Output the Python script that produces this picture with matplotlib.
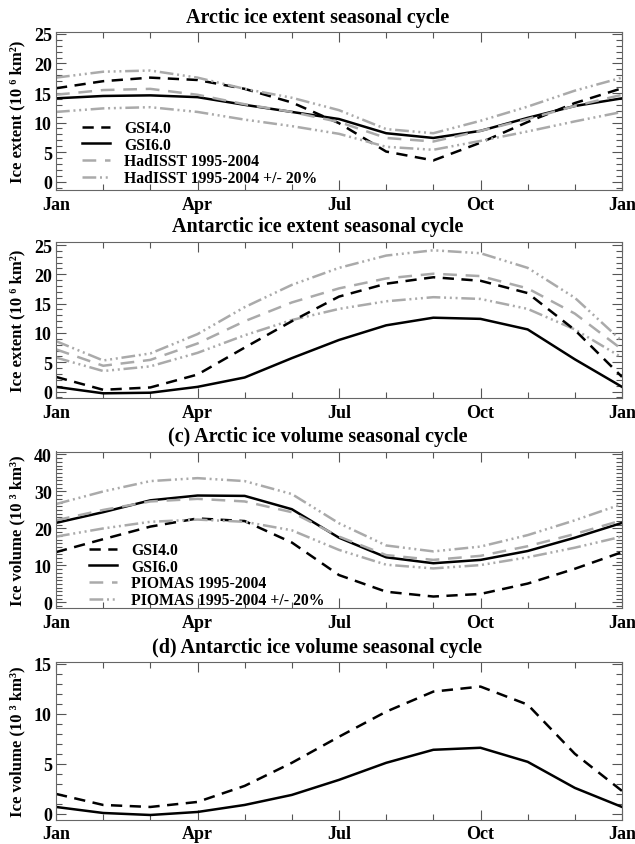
import matplotlib
matplotlib.use("Agg")
import matplotlib.pyplot as plt
from matplotlib.ticker import MultipleLocator, FixedLocator

# ---------------- data ----------------
months = list(range(13))  # Jan .. Jan (next year)
month_ticks = [0, 3, 6, 9, 12]
month_labels = ["Jan", "Apr", "Jul", "Oct", "Jan"]

# Arctic ice extent (10^6 km^2)
arc_ext_gsi4 = [15.8, 17.0, 17.6, 17.2, 15.7, 13.4, 9.9, 5.1, 3.6, 6.6, 10.1, 13.3, 15.8]
arc_ext_gsi6 = [14.1, 14.5, 14.6, 14.3, 13.0, 11.8, 10.6, 8.2, 7.4, 8.6, 10.8, 12.8, 14.1]
arc_ext_had = [14.7, 15.5, 15.7, 14.7, 13.1, 11.8, 10.1, 7.4, 6.8, 8.6, 10.6, 12.8, 14.7]
arc_ext_had_hi = [17.6, 18.6, 18.8, 17.6, 15.7, 14.2, 12.1, 8.9, 8.2, 10.3, 12.7, 15.4, 17.6]
arc_ext_had_lo = [11.8, 12.4, 12.6, 11.8, 10.5, 9.4, 8.1, 5.9, 5.4, 6.9, 8.5, 10.2, 11.8]

# Antarctic ice extent (10^6 km^2)
ant_ext_gsi4 = [2.5, 0.3, 0.7, 2.9, 7.5, 12.0, 16.2, 18.4, 19.5, 18.9, 16.8, 10.5, 2.5]
ant_ext_gsi6 = [0.8, -0.3, -0.2, 0.8, 2.4, 5.7, 8.8, 11.3, 12.6, 12.4, 10.6, 5.5, 0.8]
ant_ext_had = [7.2, 4.4, 5.4, 8.2, 12.0, 15.2, 17.6, 19.3, 20.1, 19.7, 17.6, 13.3, 7.2]
ant_ext_had_hi = [8.6, 5.3, 6.5, 9.8, 14.4, 18.2, 21.1, 23.2, 24.1, 23.6, 21.1, 16.0, 8.6]
ant_ext_had_lo = [5.8, 3.5, 4.3, 6.6, 9.6, 12.2, 14.1, 15.4, 16.1, 15.8, 14.1, 10.6, 5.8]

# Arctic ice volume (10^3 km^3)
arc_vol_gsi4 = [13.6, 17.1, 20.5, 22.7, 22.0, 16.2, 7.4, 2.9, 1.6, 2.3, 5.1, 9.1, 13.6]
arc_vol_gsi6 = [21.5, 24.4, 27.6, 28.9, 28.8, 25.2, 17.5, 12.2, 10.6, 11.5, 13.9, 17.5, 21.5]
arc_vol_pio = [22.2, 25.0, 27.3, 28.0, 27.3, 24.4, 17.8, 12.8, 11.5, 12.6, 15.2, 18.5, 22.2]
arc_vol_pio_hi = [26.6, 30.0, 32.8, 33.6, 32.8, 29.3, 21.4, 15.4, 13.8, 15.1, 18.2, 22.2, 26.6]
arc_vol_pio_lo = [17.8, 20.0, 21.8, 22.4, 21.8, 19.5, 14.2, 10.2, 9.2, 10.1, 12.2, 14.8, 17.8]

# Antarctic ice volume (10^3 km^3)
ant_vol_gsi4 = [2.0, 0.9, 0.7, 1.2, 2.8, 5.1, 7.7, 10.2, 12.2, 12.7, 10.9, 6.0, 2.3]
ant_vol_gsi6 = [0.7, 0.1, -0.1, 0.2, 0.9, 1.9, 3.4, 5.1, 6.4, 6.6, 5.2, 2.6, 0.7]

titles = ["Arctic ice extent seasonal cycle",
          "Antarctic ice extent seasonal cycle",
          "(c) Arctic ice volume seasonal cycle",
          "(d) Antarctic ice volume seasonal cycle"]
ylabels = ["Ice extent (10 \u2076 km\u00b2)", "Ice extent (10 \u2076 km\u00b2)",
           "Ice volume (10 \u00b3 km\u00b3)", "Ice volume (10 \u00b3 km\u00b3)"]

# ---------------- style ----------------
SERIF = ["Liberation Serif", "DejaVu Serif"]
plt.rcParams["font.family"] = SERIF
plt.rcParams["font.weight"] = "bold"
plt.rcParams["axes.labelweight"] = "bold"
GRAY = "#aaaaaa"
LW = 1.8

sty_gsi4 = dict(color="black", lw=LW, dashes=(4.5, 3))
sty_gsi6 = dict(color="black", lw=LW, linestyle="-")
sty_mean = dict(color=GRAY, lw=LW, dashes=(5.5, 3.5))
sty_pm = dict(color=GRAY, lw=LW, dashes=(5.5, 1.5, 0.8, 1.5, 0.8, 1.5, 0.8, 1.5))

fig = plt.figure(figsize=(6.35, 8.45), dpi=100)

W, H = 635.0, 845.0
boxes = [(32.5, 191), (242.5, 399), (452.5, 609), (662.5, 820.5)]
left, right = 56, 622
ylims = [(-1.4, 25.4), (-1.1, 25.6), (-1.5, 40.8), (-0.55, 15.2)]
ymaj = [5, 5, 10, 5]
ymin_ = [1, 1, 1, 1]

axes = []
for i, (top, bot) in enumerate(boxes):
    ax = fig.add_axes([left / W, 1 - bot / H, (right - left) / W, (bot - top) / H])
    ax.set_xlim(0, 12)
    ax.set_ylim(*ylims[i])
    ax.xaxis.set_major_locator(FixedLocator(month_ticks))
    ax.xaxis.set_minor_locator(MultipleLocator(1))
    ax.set_xticklabels(month_labels)
    ax.yaxis.set_major_locator(MultipleLocator(ymaj[i]))
    ax.yaxis.set_minor_locator(MultipleLocator(ymin_[i]))
    ax.tick_params(which="both", direction="in", top=True, right=True,
                   colors="#555555", labelcolor="black", width=0.8)
    ax.tick_params(which="major", length=7)
    ax.tick_params(which="minor", length=4)
    ax.tick_params(axis="x", labelsize=13, pad=4)
    ax.tick_params(axis="y", labelsize=13, pad=3)
    for lab in ax.get_xticklabels() + ax.get_yticklabels():
        lab.set_fontweight("bold")
    for sp in ax.spines.values():
        sp.set_color("#666666")
        sp.set_linewidth(0.8)
    ax.set_ylabel(ylabels[i], fontsize=12, fontweight="bold")
    ax.yaxis.set_label_coords(-31 / (right - left), 0.5)
    fig.text(0.5, 1 - (top - 15) / H, titles[i], ha="center", va="center",
             fontsize=14.5, fontweight="bold")
    axes.append(ax)

ax1, ax2, ax3, ax4 = axes

ax1.plot(months, arc_ext_gsi4, label="GSI4.0", **sty_gsi4)
ax1.plot(months, arc_ext_gsi6, label="GSI6.0", **sty_gsi6)
ax1.plot(months, arc_ext_had, label="HadISST 1995-2004", **sty_mean)
ax1.plot(months, arc_ext_had_hi, label="HadISST 1995-2004 +/- 20%", **sty_pm)
ax1.plot(months, arc_ext_had_lo, **sty_pm)

ax2.plot(months, ant_ext_had_hi, **sty_pm)
ax2.plot(months, ant_ext_had_lo, **sty_pm)
ax2.plot(months, ant_ext_had, **sty_mean)
ax2.plot(months, ant_ext_gsi4, **sty_gsi4)
ax2.plot(months, ant_ext_gsi6, **sty_gsi6)

ax3.plot(months, arc_vol_gsi4, label="GSI4.0", **sty_gsi4)
ax3.plot(months, arc_vol_gsi6, label="GSI6.0", **sty_gsi6)
ax3.plot(months, arc_vol_pio, label="PIOMAS 1995-2004", **sty_mean)
ax3.plot(months, arc_vol_pio_hi, label="PIOMAS 1995-2004 +/- 20%", **sty_pm)
ax3.plot(months, arc_vol_pio_lo, **sty_pm)

ax4.plot(months, ant_vol_gsi4, **sty_gsi4)
ax4.plot(months, ant_vol_gsi6, **sty_gsi6)

for ax, anchor in ((ax1, (0.046, 0.025)), (ax3, (0.058, 0.0))):
    ax.legend(loc="lower left", bbox_to_anchor=anchor, frameon=False,
              handlelength=1.8, handletextpad=0.9,
              labelspacing=0.04, borderpad=0, borderaxespad=0,
              prop={"family": SERIF, "weight": "bold", "size": 11.3})

fig.savefig("out.png", dpi=100)
